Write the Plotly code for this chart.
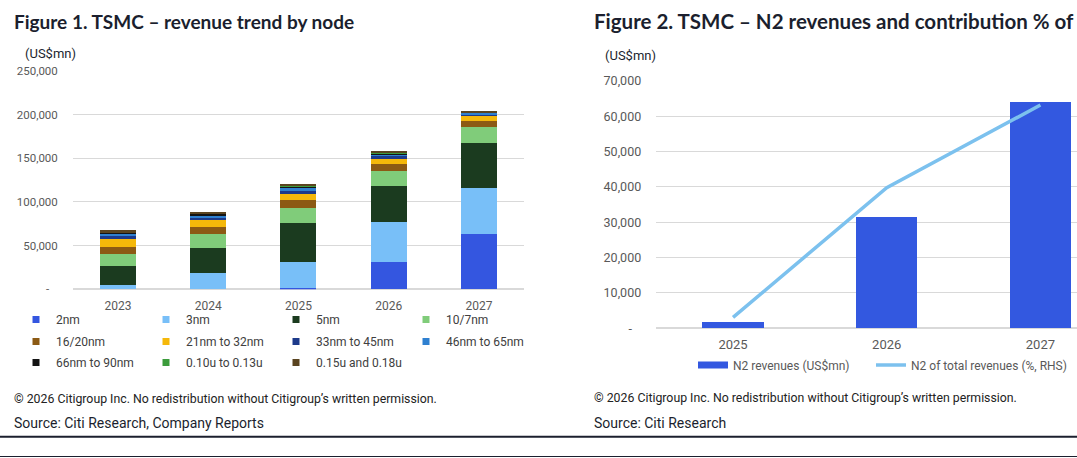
import plotly.graph_objects as go

# ---- data ----
years = ['2023', '2024', '2025', '2026', '2027']
nodes = ['2nm', '3nm', '5nm', '10/7nm', '16/20nm', '21nm to 32nm', '33nm to 45nm',
         '46nm to 65nm', '66nm to 90nm', '0.10u to 0.13u', '0.15u and 0.18u']
node_values = {
    '2nm':             [0, 0, 1000, 31300, 63800],
    '3nm':             [5000, 18300, 30300, 45500, 52300],
    '5nm':             [22000, 29400, 44700, 42000, 51200],
    '10/7nm':          [13400, 16000, 17600, 17200, 19100],
    '16/20nm':         [8400, 8000, 8400, 7600, 6900],
    '21nm to 32nm':    [8800, 7300, 7600, 6100, 5300],
    '33nm to 45nm':    [3000, 3000, 3500, 2600, 1700],
    '46nm to 65nm':    [3000, 3000, 3500, 2500, 1600],
    '66nm to 90nm':    [1500, 1300, 1500, 1200, 800],
    '0.10u to 0.13u':  [300, 300, 400, 300, 200],
    '0.15u and 0.18u': [2000, 2000, 2100, 1400, 1000],
}
node_colors = ['#3456E0', '#78BFF8', '#1B3B1F', '#80CC7A', '#8C5A14', '#F5B80A',
               '#1D3A8A', '#2F80D0', '#141414', '#3C9C3C', '#5A4420']

n2_years = ['2025', '2026', '2027']
n2_revenue = [1800, 31500, 64000]
n2_share = [1.55, 19.9, 31.6]   # % of total revenues, RHS (axis not visible)

left_ticks = [0, 50000, 100000, 150000, 200000, 250000]
right_ticks = [0, 10000, 20000, 30000, 40000, 50000, 60000, 70000]

W, H = 1077, 458
BODY = 'Roboto, Liberation Sans, sans-serif'
TITLE_FONT = 'Lato, Inter, sans-serif'
DARK = '#1b1f2e'
GRID = '#D9D9D9'


def px(x):
    return x / W


def py(y):
    return 1 - y / H


def tick_text(vals):
    return ['-\u00a0\u00a0\u00a0' if v == 0 else f'{v:,}' for v in vals]


fig = go.Figure()

# left: stacked bars, legend split into three rows
rows = [nodes[0:4], nodes[4:8], nodes[8:11]]
for i, name in enumerate(nodes):
    fig.add_trace(go.Bar(x=years, y=node_values[name], name=name, marker_color=node_colors[i],
                         marker_line_width=0, xaxis='x', yaxis='y', showlegend=False))
for r, row in enumerate(rows):
    for name in row:
        fig.add_trace(go.Scatter(x=[None], y=[None], mode='markers', name=name,
                                 marker=dict(symbol='square', size=7, color=node_colors[nodes.index(name)]),
                                 legend='legend' if r == 0 else f'legend{r + 1}'))

# right: N2 bars + share line (each with its own one-item legend)
fig.add_trace(go.Bar(x=n2_years, y=n2_revenue, name='N2 revenues (US$mn)', marker_color='#3358E0',
                     marker_line_width=0, xaxis='x2', yaxis='y2', showlegend=False))
fig.add_trace(go.Scatter(x=[None], y=[None], mode='lines', name='N2 revenues (US$mn)',
                         line=dict(color='#3358E0', width=7), legend='legend4'))
fig.add_trace(go.Scatter(x=n2_years, y=n2_share, mode='lines', name='N2 of total revenues (%, RHS)',
                         line=dict(color='#7CC1EE', width=3.5), xaxis='x2', yaxis='y3', legend='legend5'))

legend_common = dict(orientation='h', xanchor='left', yanchor='middle', bgcolor='rgba(0,0,0,0)',
                     font=dict(family=BODY, size=12, color='#404040'), traceorder='normal',
                     entrywidth=85, entrywidthmode='pixels', tracegroupgap=0)
right_legend = dict(orientation='h', xanchor='left', yanchor='middle', bgcolor='rgba(0,0,0,0)',
                    font=dict(family=BODY, size=12, color='#595959'))

fig.update_layout(
    width=W, height=H, autosize=False, margin=dict(l=0, r=0, t=0, b=0, pad=0),
    paper_bgcolor='white', plot_bgcolor='white', barmode='stack', bargap=0.6,
    xaxis=dict(domain=[px(72.8), px(524)], type='category', range=[-0.5, 4.5], showgrid=False,
               showline=False, ticks='', automargin=False, ticklabelstandoff=8,
               tickfont=dict(family=BODY, size=12, color='#595959')),
    yaxis=dict(domain=[py(289.3), py(71)], range=[0, 250000], tickvals=left_ticks,
               ticktext=tick_text(left_ticks), gridcolor=GRID, zeroline=True, zerolinecolor=GRID,
               showline=False, ticks='', automargin=False, ticklabelstandoff=14,
               tickfont=dict(family=BODY, size=11.5, color='#595959')),
    xaxis2=dict(domain=[px(656.2), 1], type='category', range=[-0.5, 2.238], showgrid=False,
                showline=False, ticks='', automargin=False, anchor='y2', ticklabelstandoff=7,
                tickfont=dict(family=BODY, size=13, color='#595959')),
    yaxis2=dict(domain=[py(328.3), py(81)], range=[0, 70000], tickvals=right_ticks,
                ticktext=tick_text(right_ticks), gridcolor=GRID, zeroline=True, zerolinecolor=GRID,
                showline=False, ticks='', automargin=False, ticklabelstandoff=14, anchor='x2',
                tickfont=dict(family=BODY, size=12.5, color='#595959')),
    yaxis3=dict(overlaying='y2', side='right', range=[0, 35], visible=False, anchor='x2',
                automargin=False),
    legend=dict(x=px(16), y=py(319.5), **legend_common),
    legend2=dict(x=px(16), y=py(341.5), **legend_common),
    legend3=dict(x=px(16), y=py(362.5), **legend_common),
    legend4=dict(x=px(693), y=py(365), **right_legend),
    legend5=dict(x=px(871), y=py(365), **right_legend),
    showlegend=True,
)

# titles, units, footers
texts = [
    (12, 21, 'Figure 1. TSMC – revenue trend by node', TITLE_FONT, 19, DARK, True),
    (592, 21, 'Figure 2. TSMC – N2 revenues and contribution % of', TITLE_FONT, 20.5, DARK, True),
    (23, 54, '(US$mn)', BODY, 13, DARK, False),
    (603, 55, '(US$mn)', BODY, 13, DARK, False),
    (12, 398.7, '© 2026 Citigroup Inc. No redistribution without Citigroup’s written permission.', BODY, 12.3, '#222222', False),
    (592, 397.7, '© 2026 Citigroup Inc. No redistribution without Citigroup’s written permission.', BODY, 12.3, '#222222', False),
    (12, 423, 'Source: Citi Research, Company Reports', BODY, 14, DARK, False),
    (592, 422.7, 'Source: Citi Research', BODY, 14, DARK, False),
]
for x, y, t, fam, size, col, bold in texts:
    fig.add_annotation(x=px(x), y=py(y), xref='paper', yref='paper', xanchor='left', yanchor='middle',
                       text=f'<b>{t}</b>' if bold else t, showarrow=False,
                       font=dict(family=fam, size=size, color=col))

# rules across the bottom
fig.add_shape(type='line', xref='paper', yref='paper', x0=0, x1=1, y0=py(436.7), y1=py(436.7),
              line=dict(color=DARK, width=2))
fig.add_shape(type='line', xref='paper', yref='paper', x0=0, x1=1, y0=py(456.5), y1=py(456.5),
              line=dict(color=DARK, width=1))

# drop the page's default body margin so the figure sits at the window's corner
fig.write_html('out.html', config={'displayModeBar': False},
               post_script="document.body.style.margin='0';")
